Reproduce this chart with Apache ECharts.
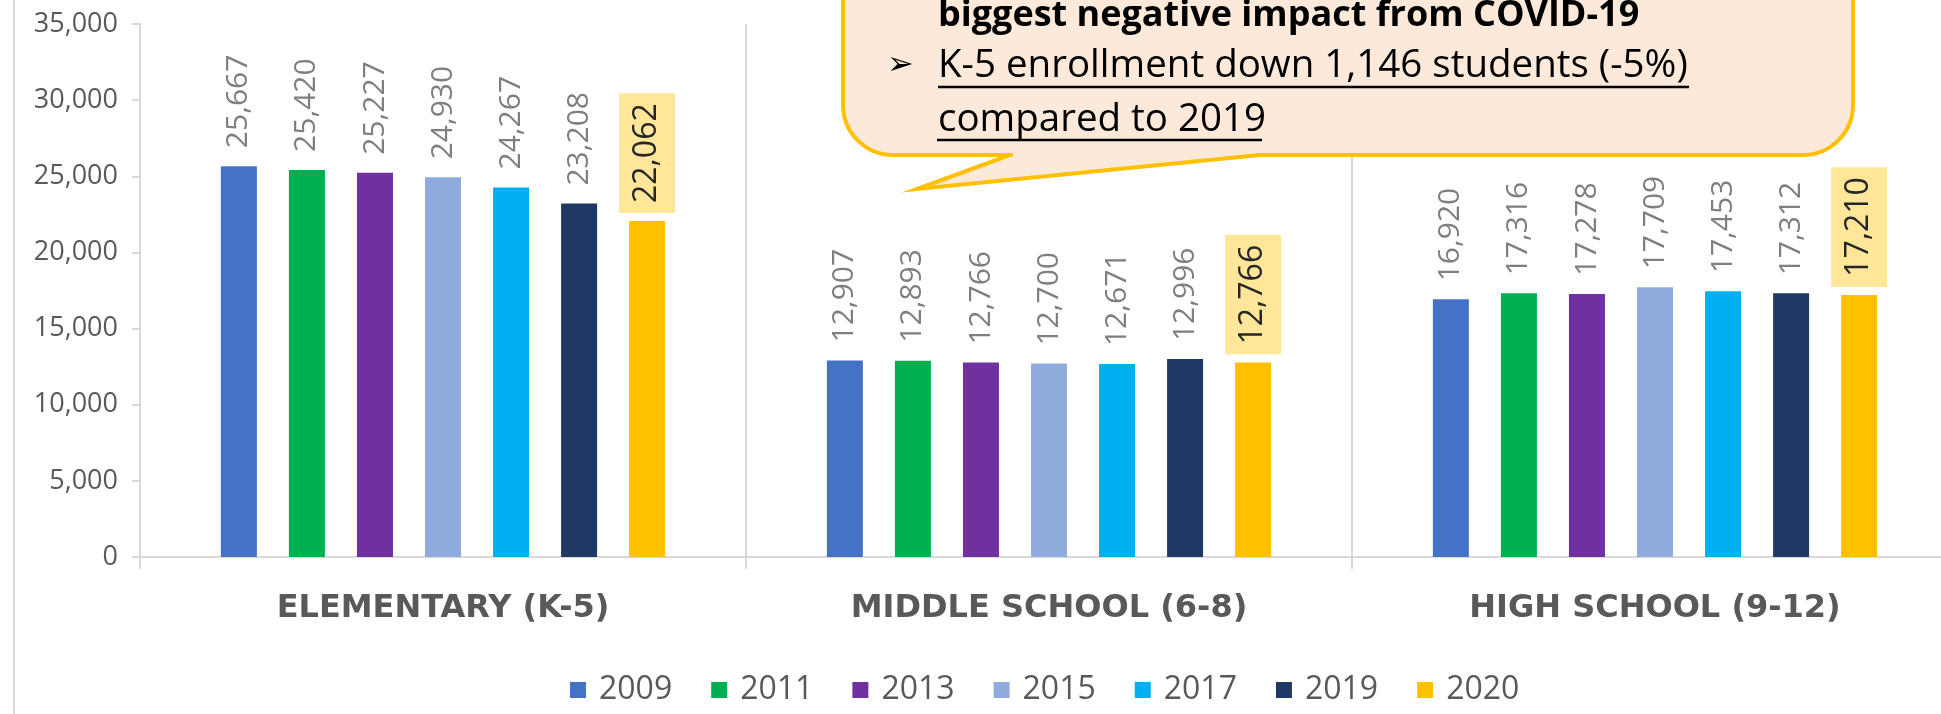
<!DOCTYPE html>
<html>
<head>
<meta charset="utf-8">
<script src="https://cdn.jsdelivr.net/npm/echarts@6/dist/echarts.min.js"></script>
<style>
    html, body { margin: 0; padding: 0; background: #fff; }
    #enroll { width: 1941px; height: 714px; }
</style>
</head>
<body>
<div id="enroll"></div>
<script>
// school levels and years
let categories = ['ELEMENTARY (K-5)', 'MIDDLE SCHOOL (6-8)', 'HIGH SCHOOL (9-12)']
let years = ['2009', '2011', '2013', '2015', '2017', '2019', '2020']
let colors = ['#4472c4', '#00b050', '#7030a0', '#8faadc', '#00b0f0', '#203864', '#ffc000']

// enrollment per year: [elementary, middle, high]
let v2009 = [25667, 12907, 16920]
let v2011 = [25420, 12893, 17316]
let v2013 = [25227, 12766, 17278]
let v2015 = [24930, 12700, 17709]
let v2017 = [24267, 12671, 17453]
let v2019 = [23208, 12996, 17312]
let v2020 = [22062, 12766, 17210]
let values = [v2009, v2011, v2013, v2015, v2017, v2019, v2020]

let yTicks = [0, 5000, 10000, 15000, 20000, 25000, 30000, 35000]

function comma (n) {
    return String(n).replace(/\B(?=(\d{3})+(?!\d))/g, ',')
}

let enroll = echarts.init(document.getElementById('enroll'));

let seriesList = []
for (let i = 0, len = years.length; i < len; i++) {
    let last = i === len - 1
    seriesList.push({
        name: years[i],
        type: 'bar',
        barWidth: 36,
        barGap: '89%',
        itemStyle: { color: colors[i] },
        data: values[i],
        label: {
            show: true,
            position: 'top',
            rotate: 90,
            align: 'left',
            verticalAlign: 'middle',
            distance: last ? 8 : 18,
            fontFamily: 'Open Sans',
            fontSize: last ? 32 : 30,
            color: last ? '#262626' : '#7f7f7f',
            backgroundColor: last ? '#ffe699' : 'transparent',
            padding: last ? [10, 10] : 0,
            lineHeight: last ? 36 : 32,
            formatter: function (p) { return comma(p.value) }
        }
    })
}

// callout box (annotation)
let peach = '#fce9da'
let gold = '#ffc000'
let txtFont = '38.5px "Open Sans"'
let graphics = [
    { type: 'line', shape: { x1: 14, y1: 0, x2: 14, y2: 714 }, style: { stroke: '#d9d9d9', lineWidth: 2 } },
    { type: 'rect', shape: { x: 843, y: -80, width: 1010, height: 235, r: 50 }, style: { fill: peach, stroke: gold, lineWidth: 4 }, z: 10 },
    { type: 'polygon', shape: { points: [[1012, 150], [1013, 157], [921, 187], [1256, 157], [1256, 150]] }, style: { fill: peach }, z: 11 },
    { type: 'polyline', shape: { points: [[1010, 155], [917, 189], [1260, 155]] }, style: { stroke: gold, lineWidth: 4, fill: null }, z: 12 },
    { type: 'text', x: 938, y: 16, style: { text: 'biggest negative impact from COVID-19', font: 'bold 36px "Open Sans"', fill: '#000', textVerticalAlign: 'middle' }, z: 13 },
    { type: 'text', x: 887, y: 66, style: { text: '➢', font: '32px "DejaVu Sans"', fill: '#000', textVerticalAlign: 'middle' }, z: 13 },
    { type: 'text', x: 938, y: 66, style: { text: 'K-5 enrollment down 1,146 students (-5%)', font: txtFont, fill: '#000', textVerticalAlign: 'middle' }, z: 13 },
    { type: 'line', shape: { x1: 938, y1: 87, x2: 1689, y2: 87 }, style: { stroke: '#000', lineWidth: 2.5 }, z: 13 },
    { type: 'text', x: 938, y: 120, style: { text: 'compared to 2019', font: txtFont, fill: '#000', textVerticalAlign: 'middle' }, z: 13 },
    { type: 'line', shape: { x1: 937, y1: 140, x2: 1262, y2: 140 }, style: { stroke: '#000', lineWidth: 2.5 }, z: 13 }
]

let option = {
    animation: false,
    backgroundColor: '#fff',
    color: colors,
    grid: {
        left: 140,
        width: 1818,
        top: 24,
        bottom: 157,
        outerBoundsMode: 'none'
    },
    legend: {
        data: years,
        left: 570,
        top: 674,
        padding: 0,
        icon: 'rect',
        itemWidth: 16,
        itemHeight: 16,
        itemGap: 39,
        textStyle: {
            fontFamily: 'Open Sans',
            fontSize: 32,
            color: '#595959',
            padding: [0, 0, 0, 8]
        }
    },
    xAxis: {
        type: 'category',
        data: categories,
        axisLine: { lineStyle: { color: '#d9d9d9', width: 2 } },
        axisTick: { show: true, length: 12, lineStyle: { color: '#d9d9d9', width: 2 } },
        splitLine: { show: true, lineStyle: { color: '#d9d9d9', width: 2 } },
        axisLabel: {
            margin: 36,
            fontFamily: 'DejaVu Sans',
            fontWeight: 'bold',
            fontSize: 32,
            color: '#595959'
        }
    },
    yAxis: {
        type: 'value',
        min: yTicks[0],
        max: yTicks[yTicks.length - 1],
        interval: yTicks[1] - yTicks[0],
        axisLine: { show: true, lineStyle: { color: '#d9d9d9', width: 2 } },
        axisTick: { show: true, length: 8, lineStyle: { color: '#d9d9d9', width: 2 } },
        splitLine: { show: false },
        axisLabel: {
            margin: 22,
            fontFamily: 'Open Sans',
            fontSize: 27,
            color: '#595959',
            formatter: function (v) { return comma(v) }
        }
    },
    graphic: graphics,
    series: seriesList
};
enroll.setOption(option);
</script>
</body>
</html>
